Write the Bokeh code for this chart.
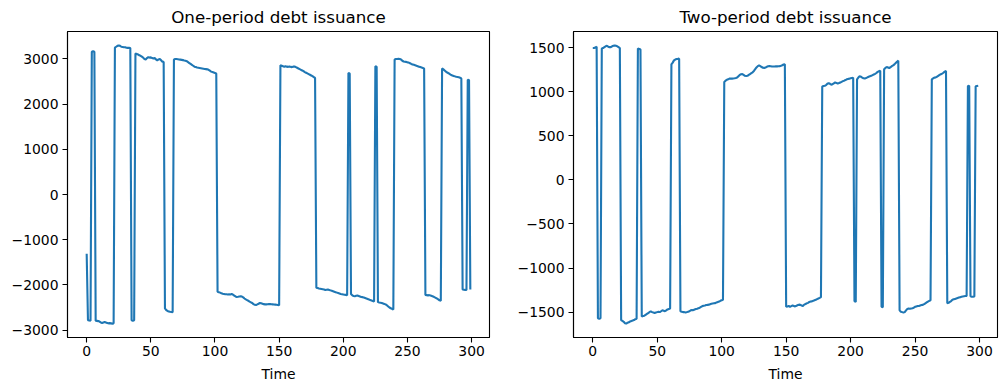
from bokeh.plotting import figure
from bokeh.layouts import row
from bokeh.models import Range1d, FixedTicker
from bokeh.embed import file_html
from bokeh.resources import INLINE

# ---- data ----
time = list(range(300))

one_period = (
    [-1310]
    + [-2780, -2785, -2790]
    + [3160, 3170, 3160]
    + [-2790, -2795, -2800, -2810, -2830, -2840, -2830, -2820, -2830, -2840, -2850, -2845, -2850, -2855, -2850]
    + [3250, 3270, 3290, 3300, 3290, 3270, 3265, 3260, 3260, 3250, 3245, 3245, 3240]
    + [-2780, -2790, -2780]
    + [3120, 3110, 3100, 3080, 3070, 3050, 3030, 3000, 2990, 3020, 3040, 3030, 3035, 3020, 3010,
       3020, 2990, 2970, 2990, 3000, 2970, 2940, 2935]
    + [-2520, -2555, -2575, -2585, -2595, -2600, -2605]
    + [2990, 3000, 3000, 2995, 2990, 2985, 2980, 2975, 2965, 2960, 2950, 2930, 2910, 2890, 2870,
       2850, 2830, 2820, 2810, 2805, 2800, 2795, 2790, 2785, 2780, 2775, 2770, 2760, 2740, 2720,
       2710, 2700, 2690, 2680]
    + [-2150, -2160, -2170, -2185, -2195, -2200, -2205, -2205, -2210, -2205, -2210, -2200, -2215,
       -2235, -2255, -2265, -2262, -2255, -2250, -2258, -2275, -2300, -2320, -2335, -2350, -2370,
       -2385, -2400, -2425, -2440, -2445, -2430, -2415, -2400, -2405, -2415, -2425, -2430, -2430,
       -2428, -2425, -2425, -2428, -2430, -2432, -2435, -2440, -2445, -2450]
    + [2860, 2850, 2840, 2830, 2840, 2830, 2825, 2835, 2825, 2820, 2830, 2835, 2820, 2805, 2790,
       2775, 2760, 2745, 2730, 2710, 2695, 2680, 2665, 2650, 2635, 2620, 2600, 2580]
    + [-2060, -2070, -2080, -2085, -2090, -2095, -2100, -2110, -2105, -2100, -2110, -2120, -2130,
       -2140, -2150, -2160, -2170, -2180, -2190, -2200, -2205, -2210, -2215, -2220, -2230]
    + [2690, 2680]
    + [-2200, -2230, -2245, -2250, -2240, -2235, -2245, -2255, -2265, -2270, -2280, -2290, -2300,
       -2310, -2320, -2335, -2345, -2355, -2365]
    + [2840, 2830]
    + [-2380, -2390, -2395, -2400, -2410, -2420, -2430, -2450, -2475, -2500, -2515, -2530, -2545]
    + [2990, 3000, 3000, 3005, 3000, 2990, 2960, 2945, 2940, 2935, 2925, 2920, 2905, 2890, 2880,
       2870, 2860, 2850, 2840, 2830, 2820, 2810, 2800, 2790]
    + [-2220, -2225, -2230, -2225, -2235, -2245, -2255, -2270, -2285, -2300, -2320, -2340, -2350]
    + [2790, 2770, 2745, 2720, 2700, 2685, 2665, 2645, 2635, 2625, 2615, 2605, 2600, 2595, 2585, 2570]
    + [-2100, -2105, -2110, -2110]
    + [2540, 2535]
    + [-2100]
)

two_period = (
    [1495, 1495, 1500, 1510]
    + [-1570, -1575, -1570]
    + [1490, 1495, 1505, 1515, 1520, 1510, 1505, 1505, 1515, 1520, 1525, 1520, 1515, 1505, 1495]
    + [-1590, -1600, -1610, -1625, -1630, -1620, -1615, -1605, -1600, -1595, -1590, -1580, -1575]
    + [1490, 1485, 1478]
    + [-1550, -1545, -1540, -1530, -1520, -1510, -1500, -1490, -1500, -1505, -1510, -1505, -1500,
       -1495, -1500, -1490, -1480, -1485, -1490, -1480, -1470, -1465, -1460]
    + [1310, 1330, 1355, 1365, 1370, 1372, 1375]
    + [-1490, -1495, -1500, -1500, -1505, -1500, -1495, -1490, -1480, -1475, -1478, -1470, -1465,
       -1462, -1455, -1450, -1440, -1432, -1428, -1425, -1420, -1418, -1415, -1410, -1405, -1402,
       -1400, -1398, -1390, -1385, -1380, -1372, -1366, -1360]
    + [1110, 1125, 1135, 1140, 1148, 1150, 1148, 1150, 1152, 1155, 1160, 1175, 1190, 1198, 1200,
       1190, 1180, 1178, 1180, 1190, 1200, 1210, 1220, 1235, 1255, 1275, 1290, 1298, 1290, 1280,
       1272, 1270, 1275, 1282, 1288, 1290, 1288, 1285, 1285, 1286, 1288, 1287, 1288, 1290, 1294,
       1300, 1308, 1312]
    + [-1440, -1435, -1430, -1440, -1432, -1425, -1430, -1435, -1428, -1420, -1415, -1418, -1425,
       -1430, -1415, -1408, -1400, -1395, -1385, -1380, -1378, -1372, -1365, -1360, -1352, -1345,
       -1338, -1330]
    + [1060, 1065, 1068, 1075, 1090, 1098, 1090, 1080, 1085, 1095, 1105, 1100, 1092, 1098, 1105,
       1112, 1120, 1125, 1132, 1140, 1145, 1148, 1152, 1155, 1158]
    + [-1375, -1385]
    + [1140, 1160, 1175, 1170, 1160, 1152, 1150, 1155, 1162, 1170, 1175, 1180, 1188, 1195, 1202,
       1212, 1225, 1232, 1238]
    + [-1440, -1445]
    + [1255, 1270, 1280, 1275, 1268, 1278, 1290, 1298, 1310, 1325, 1340, 1352]
    + [-1480, -1495, -1500, -1505, -1500, -1480, -1465, -1460, -1462, -1458, -1455, -1450, -1440,
       -1435, -1430, -1430, -1425, -1420, -1418, -1410, -1400, -1390, -1380, -1372, -1365]
    + [1140, 1150, 1160, 1162, 1170, 1180, 1190, 1198, 1205, 1215, 1228, 1235]
    + [-1400, -1395, -1385, -1375, -1360, -1355, -1350, -1345, -1340, -1335, -1330, -1325, -1322,
       -1320, -1318, -1316]
    + [1065, 1068]
    + [-1320, -1325, -1325, -1322]
    + [1062, 1065, 1068]
)

x_ticks = [0, 50, 100, 150, 200, 250, 300]
left_y_ticks = [-3000, -2000, -1000, 0, 1000, 2000, 3000]
right_y_ticks = [-1500, -1000, -500, 0, 500, 1000, 1500]
titles = ["One-period debt issuance", "Two-period debt issuance"]
x_label = "Time"

FONT = "DejaVu Sans"
LINE_COLOR = "#1f77b4"


def padded(vals, frac=0.05):
    lo, hi = min(vals), max(vals)
    pad = (hi - lo) * frac
    return lo - pad, hi + pad


def make_fig(x, y, title, yticks, width, bl, br):
    x0, x1 = padded(x)
    y0, y1 = padded(y)
    p = figure(width=width, height=391, output_backend="svg", toolbar_location=None,
               x_range=Range1d(x0, x1), y_range=Range1d(y0, y1),
               min_border_left=bl, min_border_right=br, min_border_top=29, min_border_bottom=54)
    p.line(x, y, line_color=LINE_COLOR, line_width=2.1)
    p.title.text = title
    p.title.align = "center"
    p.title.vertical_align = "bottom"
    p.title.text_font = FONT
    p.title.text_font_size = "16.7px"
    p.title.text_font_style = "normal"
    p.title.text_color = "black"
    p.title.standoff = 9
    p.title.text_line_height = 1.0
    p.xgrid.grid_line_color = None
    p.ygrid.grid_line_color = None
    p.outline_line_color = "black"
    p.outline_line_width = 1.1
    p.outline_line_alpha = 1.0
    p.background_fill_color = "white"
    p.border_fill_color = "white"
    p.xaxis.ticker = FixedTicker(ticks=x_ticks)
    p.yaxis.ticker = FixedTicker(ticks=yticks)
    p.yaxis.major_label_overrides = {v: (str(v).replace("-", "\u2212")) for v in yticks}
    p.xaxis.major_label_overrides = {v: str(v) for v in x_ticks}
    for ax in (p.xaxis, p.yaxis):
        ax.axis_line_color = "black"
        ax.axis_line_width = 1.1
        ax.major_tick_line_color = "black"
        ax.major_tick_line_width = 1.1
        ax.major_tick_in = 0
        ax.major_tick_out = 5
        ax.minor_tick_line_color = None
        ax.major_label_text_font = FONT
        ax.major_label_text_font_size = "13.9px"
        ax.major_label_text_color = "black"
        ax.major_label_standoff = 4
    p.xaxis.major_label_standoff = 3
    p.xaxis.axis_label = x_label
    p.xaxis.axis_label_text_font = FONT
    p.xaxis.axis_label_text_font_size = "13.9px"
    p.xaxis.axis_label_text_font_style = "normal"
    p.xaxis.axis_label_text_color = "black"
    p.xaxis.axis_label_standoff = 7
    return p


p1 = make_fig(time, one_period, titles[0], left_y_ticks, 508, 67, 19)
p2 = make_fig(time, two_period, titles[1], right_y_ticks, 498, 65, 9)

layout = row(p1, p2)
open("out.html", "w").write(file_html(layout, INLINE))
